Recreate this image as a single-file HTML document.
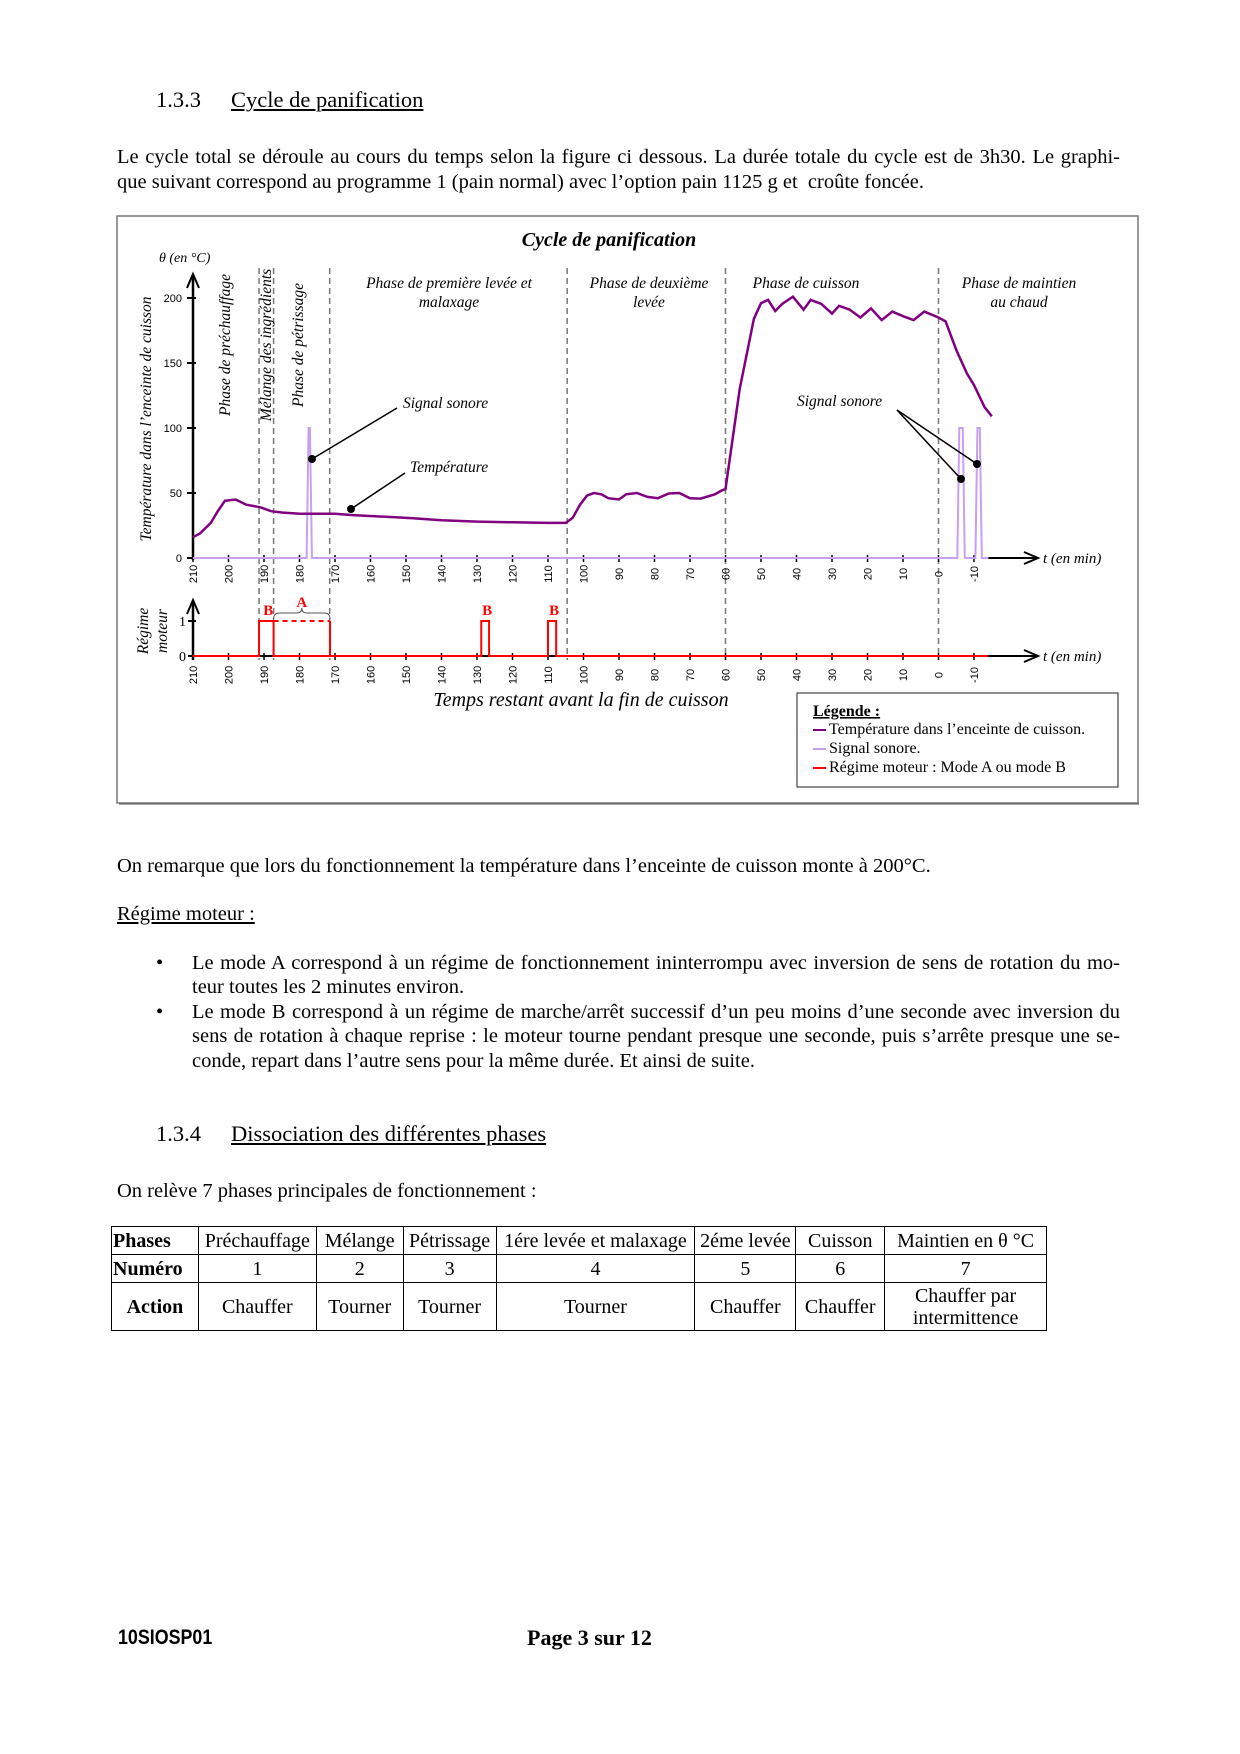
<!DOCTYPE html>
<html><head><meta charset="utf-8">
<style>
body{margin:0;background:#fff;}
#page{position:relative;width:1240px;height:1754px;overflow:hidden;font-family:"Liberation Serif",serif;color:#000;}
.t{position:absolute;white-space:nowrap;font-size:20.5px;line-height:24.5px;}
.j{position:absolute;left:117px;width:1003px;font-size:20.5px;line-height:24.5px;text-align:justify;text-align-last:justify;white-space:nowrap;}
.h{font-size:22.5px;}
.u{text-decoration:underline;}
table{position:absolute;left:111px;top:1226px;width:936px;border-collapse:collapse;font-size:20px;}
td{border:1.5px solid #000;text-align:center;padding:0 1px;line-height:22px;white-space:nowrap;}
</style></head><body>
<div id="page">
<div class="t h" style="left:156px;top:88px">1.3.3</div>
<div class="t h u" style="left:231px;top:88px">Cycle de panification</div>
<div class="j" style="top:145px">Le cycle total se déroule au cours du temps selon la figure ci dessous. La durée totale du cycle est de 3h30. Le graphi-</div>
<div class="t" style="left:117px;top:170px">que suivant correspond au programme 1 (pain normal) avec l’option pain 1125 g et&nbsp; croûte foncée.</div>

<svg id="chart" style="position:absolute;left:0;top:0" width="1240" height="820" viewBox="0 0 1240 820" font-family="Liberation Serif, serif">
<rect x="117" y="216" width="1021" height="587" fill="#fff" stroke="#777" stroke-width="1.5"/>
<line x1="119" y1="804" x2="1139" y2="804" stroke="#555" stroke-width="1"/>
<g id="g"></g>
</svg>

<div class="t" style="left:117px;top:854px">On remarque que lors du fonctionnement la température dans l’enceinte de cuisson monte à 200°C.</div>
<div class="t u" style="left:117px;top:902px">Régime moteur :</div>
<div class="t" style="left:156px;top:951px">•</div>
<div class="j" style="left:192px;width:928px;top:951px">Le mode A correspond à un régime de fonctionnement ininterrompu avec inversion de sens de rotation du mo-</div>
<div class="t" style="left:192px;top:975px">teur toutes les 2 minutes environ.</div>
<div class="t" style="left:156px;top:1000px">•</div>
<div class="j" style="left:192px;width:928px;top:1000px">Le mode B correspond à un régime de marche/arrêt successif d’un peu moins d’une seconde avec inversion du</div>
<div class="j" style="left:192px;width:928px;top:1024px">sens de rotation à chaque reprise : le moteur tourne pendant presque une seconde, puis s’arrête presque une se-</div>
<div class="t" style="left:192px;top:1049px">conde, repart dans l’autre sens pour la même durée. Et ainsi de suite.</div>
<div class="t h" style="left:156px;top:1122px">1.3.4</div>
<div class="t h u" style="left:231px;top:1122px">Dissociation des différentes phases</div>
<div class="t" style="left:117px;top:1179px">On relève 7 phases principales de fonctionnement :</div>

<table>
<colgroup><col style="width:87px"><col style="width:118px"><col style="width:87px"><col style="width:93px"><col style="width:199px"><col style="width:101px"><col style="width:89px"><col style="width:162px"></colgroup>
<tr style="height:28px"><td style="font-weight:bold;text-align:left">Phases</td><td>Préchauffage</td><td>Mélange</td><td>Pétrissage</td><td>1ére levée et malaxage</td><td>2éme levée</td><td>Cuisson</td><td>Maintien en θ °C</td></tr>
<tr style="height:28px"><td style="font-weight:bold;text-align:left">Numéro</td><td>1</td><td>2</td><td>3</td><td>4</td><td>5</td><td>6</td><td>7</td></tr>
<tr style="height:48px"><td style="font-weight:bold">Action</td><td>Chauffer</td><td>Tourner</td><td>Tourner</td><td>Tourner</td><td>Chauffer</td><td>Chauffer</td><td>Chauffer par<br>intermittence</td></tr>
</table>

<div class="t" style="left:118px;top:1626px;font-family:'Liberation Sans',sans-serif;font-weight:bold;font-size:21px;transform:scaleX(0.85);transform-origin:left">10SIOSP01</div>
<div class="t" style="left:527px;top:1626px;font-weight:bold;font-size:22px">Page 3 sur 12</div>
</div>

<script>
// ---- chart data ----
const tempTimes = [210,208,205,203,201,198,195,191,188,185,180,175,170,165,155,148,140,130,120,110,105,103,101,99,97,95,93,90,88,85,82,79,76,73,70,67,63,61,60,56,52,50,48,46,44,41,38,36,33,30,28,25,22,19,16,13,10,7,4,0,-2,-5,-8,-10,-13,-15];
const tempValues = [16,19,27,36,44,45,41,39,36,35,34,34,34,33,31.6,30.6,29,28,27.5,27,27,31,41,48,50,49,46,45,49,50,47,46,49.6,50,46,45.7,49,52,53,130,184,196,198.5,190,195.5,201,191,198.5,195.5,188,194,191,185,192,183,189.5,186,183,189.5,185,182,160,142,133,116,109];
const signalStarts = [178,-5.3,-10.4];
const signalEnds = [176.5,-7.4,-12.2];
const signalLevel = [100,100,100];
const motorStarts = [191.4,187.3,128.8,110];
const motorEnds = [187.3,171.4,126.6,107.7];
const motorModes = ['B','A','B','B'];
const phaseBounds = [191.4,187.3,171.5,104.6,60,0];
const xTicks = [210,200,190,180,170,160,150,140,130,120,110,100,90,80,70,60,50,40,30,20,10,0,-10];
const yTicks = [0,50,100,150,200];

const NS='http://www.w3.org/2000/svg';
const g=document.getElementById('g');
const X0=193, PX=3.55, Y0=558, PY=1.3;
const MY0=656, MY1=621;
const xs=t=>X0+(210-t)*PX;
const ys=v=>Y0-v*PY;
const ms=v=>MY0-v*(MY0-MY1);
function el(tag,attrs,parent){const e=document.createElementNS(NS,tag);for(const k in attrs)e.setAttribute(k,attrs[k]);(parent||g).appendChild(e);return e;}
function txt(x,y,s,attrs){const e=el('text',Object.assign({x:x,y:y},attrs||{}));e.textContent=s;return e;}

phaseBounds.forEach((t,i)=>{
 const l=el('line',{x1:xs(t),x2:xs(t),y1:268,y2:660,stroke:'#777','stroke-width':1.5,'stroke-dasharray':'6,4'});
 
 
});

const ya=el('line',{x1:X0,y1:560,x2:X0,y2:276,stroke:'#000','stroke-width':2.5});


el('path',{d:`M${X0-6} 288 L${X0} 274 L${X0+6} 288`,fill:'none',stroke:'#000','stroke-width':2});
yTicks.forEach(v=>{
 el('line',{x1:X0-6,x2:X0+3,y1:ys(v),y2:ys(v),stroke:'#000','stroke-width':2});
 const t=txt(182,ys(v)+4,String(v),{'font-family':'Liberation Sans, sans-serif','font-size':11,'text-anchor':'end'});
 
 
});
el('line',{x1:xs(-14),x2:1036,y1:Y0,y2:Y0,stroke:'#000','stroke-width':2});
el('path',{d:`M1024 ${Y0-6} L1038 ${Y0} L1024 ${Y0+6}`,fill:'none',stroke:'#000','stroke-width':2});
txt(1043,Y0+5,'t (en min)',{'font-style':'italic','font-size':15});
const my=el('line',{x1:X0,y1:660,x2:X0,y2:602,stroke:'#000','stroke-width':2.5});


el('path',{d:`M${X0-6} 614 L${X0} 600 L${X0+6} 614`,fill:'none',stroke:'#000','stroke-width':2});
[0,1].forEach(v=>{el('line',{x1:X0-5,x2:X0+3,y1:ms(v),y2:ms(v),stroke:'#000','stroke-width':2});txt(186,ms(v)+5,String(v),{'font-size':14,'text-anchor':'end'});});
el('line',{x1:X0,x2:1036,y1:MY0,y2:MY0,stroke:'#000','stroke-width':2});
el('path',{d:`M1024 ${MY0-6} L1038 ${MY0} L1024 ${MY0+6}`,fill:'none',stroke:'#000','stroke-width':2});
txt(1043,MY0+5,'t (en min)',{'font-style':'italic','font-size':15});

xTicks.forEach(t=>{
 const x=xs(t);
 el('line',{x1:x,x2:x,y1:Y0-3,y2:Y0+4,stroke:'#000','stroke-width':1.5});
 el('line',{x1:x,x2:x,y1:MY0-3,y2:MY0+4,stroke:'#000','stroke-width':1.5});
 const a=txt(0,0,String(t),{'font-family':'Liberation Sans, sans-serif','font-size':11,'text-anchor':'middle',transform:`translate(${x+4},574) rotate(-90)`});
 
 
 const b=txt(0,0,String(t),{'font-family':'Liberation Sans, sans-serif','font-size':11,'text-anchor':'middle',transform:`translate(${x+4},675) rotate(-90)`});
 
 
});

let sd=`M${X0} ${ys(0)}`;
signalStarts.forEach((s,i)=>{
 sd+=` L${xs(s)} ${ys(0)} L${xs(s)+2} ${ys(signalLevel[i])} L${xs(signalEnds[i])-2} ${ys(signalLevel[i])} L${xs(signalEnds[i])} ${ys(0)}`;
});
sd+=` L${xs(-14)} ${ys(0)}`;
const sp=el('path',{d:sd,fill:'none',stroke:'#c8a0f0','stroke-width':2});



const tp=el('path',{d:tempTimes.map((t,i)=>(i?'L':'M')+xs(t).toFixed(1)+' '+ys(tempValues[i]).toFixed(1)).join(' '),fill:'none',stroke:'#800080','stroke-width':2.5});



let md=`M${X0} ${ms(0)}`;
motorStarts.forEach((s,i)=>{
 if(motorModes[i]==='A'){
  md+=` L${xs(motorEnds[i])} ${ms(0)} L${xs(motorEnds[i])} ${ms(1)}`;
  md+=` M${xs(motorEnds[i])} ${ms(0)}`;
 } else {
  md+=` L${xs(s)} ${ms(0)} L${xs(s)} ${ms(1)} L${xs(motorEnds[i])} ${ms(1)} L${xs(motorEnds[i])} ${ms(0)}`;
 }
});
md+=` L${xs(-14)} ${ms(0)}`;
const mp=el('path',{d:md,fill:'none',stroke:'#f00','stroke-width':2});


motorStarts.forEach((s,i)=>{
 const cx=(xs(s)+xs(motorEnds[i]))/2;
 if(motorModes[i]==='A'){
  el('line',{x1:xs(s),x2:xs(motorEnds[i]),y1:ms(1),y2:ms(1),stroke:'#f00','stroke-width':2,'stroke-dasharray':'5,4'});
  el('path',{d:`M${xs(s)} ${ms(1)-2} q0 -6 6 -6 L${cx-5} ${ms(1)-8} q5 0 5 -5 q0 5 5 5 L${xs(motorEnds[i])-6} ${ms(1)-8} q6 0 6 6`,fill:'none',stroke:'#555','stroke-width':1});
  txt(cx,ms(1)-14,'A',{'font-weight':'bold','font-size':15,fill:'#f00','text-anchor':'middle'});
 } else {
  txt(cx+2,ms(1)-6,'B',{'font-weight':'bold','font-size':15,fill:'#f00','text-anchor':'middle'});
 }
});

const I={'font-style':'italic','font-size':15.5};
txt(609,246,'Cycle de panification',{'font-style':'italic','font-weight':'bold','font-size':20,'text-anchor':'middle'});
txt(159,262,'θ (en °C)',{'font-style':'italic','font-size':14});
txt(0,0,'Température dans l’enceinte de cuisson',{'text-anchor':'middle',transform:'translate(151,419) rotate(-90)','font-style':'italic','font-size':15.5});
txt(0,0,'Phase de préchauffage',Object.assign({'text-anchor':'middle',transform:'translate(230,345) rotate(-90)'},I));
txt(0,0,'Mélange des ingrédients',Object.assign({'text-anchor':'middle',transform:'translate(271,345) rotate(-90)'},I));
txt(0,0,'Phase de pétrissage',Object.assign({'text-anchor':'middle',transform:'translate(303,345) rotate(-90)'},I));
[['Phase de première levée et','malaxage',449],['Phase de deuxième','levée',649],['Phase de cuisson','',806],['Phase de maintien','au chaud',1019]].forEach(p=>{
 txt(p[2],288,p[0],Object.assign({'text-anchor':'middle'},I));
 if(p[1])txt(p[2],307,p[1],Object.assign({'text-anchor':'middle'},I));
});
txt(403,408,'Signal sonore',I);
el('line',{x1:397,y1:408,x2:312,y2:459,stroke:'#000','stroke-width':1.5});
el('circle',{cx:312,cy:459,r:4});
txt(410,472,'Température',I);
el('line',{x1:405,y1:473,x2:351,y2:509,stroke:'#000','stroke-width':1.5});
el('circle',{cx:351,cy:509,r:4});
txt(797,406,'Signal sonore',I);
el('line',{x1:897,y1:410,x2:961,y2:479,stroke:'#000','stroke-width':1.5});
el('line',{x1:897,y1:410,x2:977,y2:464,stroke:'#000','stroke-width':1.5});
el('circle',{cx:961,cy:479,r:4});
el('circle',{cx:977,cy:464,r:4});
txt(0,0,'Régime',Object.assign({'text-anchor':'middle',transform:'translate(148,631) rotate(-90)'},I));
txt(0,0,'moteur',Object.assign({'text-anchor':'middle',transform:'translate(167,631) rotate(-90)'},I));
const xt=txt(581,706,'Temps restant avant la  fin de cuisson',{'font-style':'italic','font-size':20,'text-anchor':'middle'});



const lg=el('rect',{x:797,y:693,width:321,height:94,fill:'#fff',stroke:'#444','stroke-width':1.2});


txt(813,716,'Légende :',{'font-weight':'bold','font-size':16,'text-decoration':'underline'});
[['Température dans l’enceinte de cuisson.','#800080',734],['Signal sonore.','#c8a0f0',753],['Régime moteur : Mode A ou  mode B','#f00',772]].forEach(l=>{
 el('line',{x1:813,x2:826,y1:l[2]-4,y2:l[2]-4,stroke:l[1],'stroke-width':2});
 const e=txt(829,l[2],l[0],{'font-size':16});
 
 
});
</script>
</body></html>
